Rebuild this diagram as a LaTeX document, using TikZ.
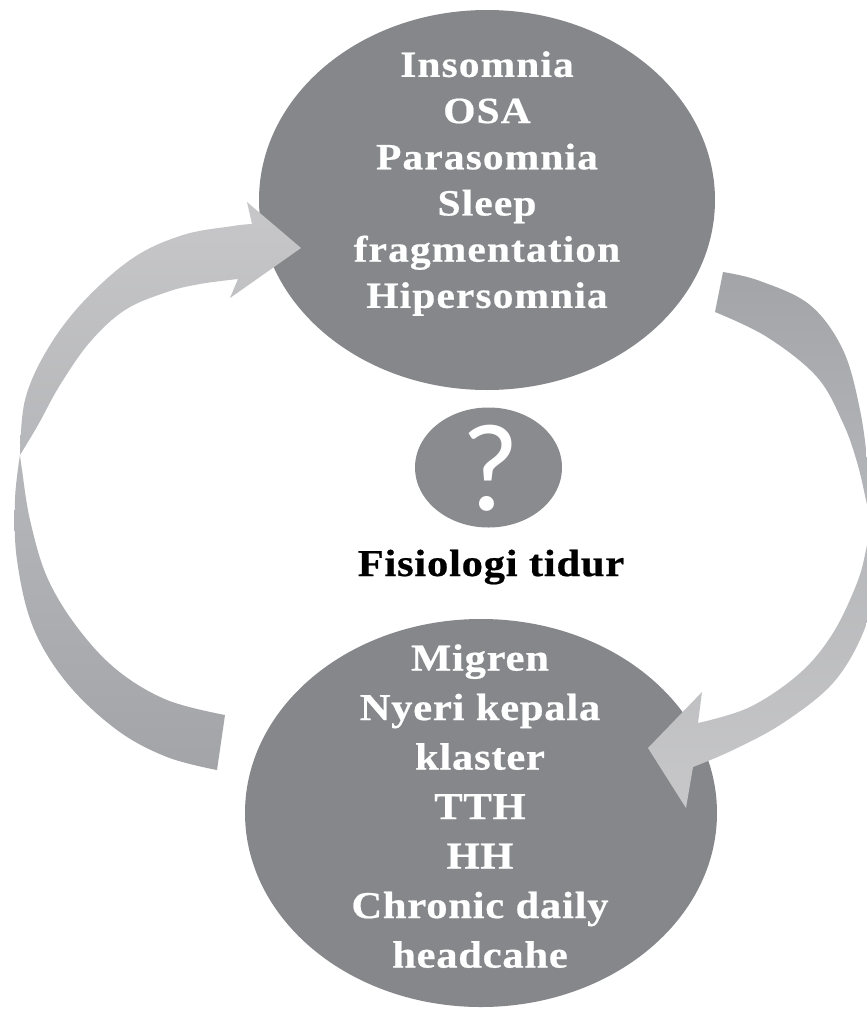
\documentclass[tikz,border=0pt]{standalone}
\usepackage{fontspec}
\setmainfont{Liberation Serif}
\newfontfamily\topfont[LetterSpace=3,FakeStretch=1.12,FakeBold=0.6]{Liberation Serif}
\newfontfamily\botfont[LetterSpace=2,FakeStretch=1.12,FakeBold=0.6]{Liberation Serif}
\newfontfamily\midfont[LetterSpace=2,FakeStretch=1.12,FakeBold=0.6]{Liberation Serif}
\newfontfamily\qfont{Carlito}
\usetikzlibrary{shapes.geometric}
\definecolor{blobgray}{HTML}{86878B}
\definecolor{qgray}{HTML}{8A8B8F}
\definecolor{arrlight}{HTML}{C7C7C9}
\definecolor{arrmid}{HTML}{B6B7BA}
\definecolor{arrdark}{HTML}{A3A4A8}
\begin{document}
\begin{tikzpicture}[x=1pt,y=-1pt,
  blob/.style={ellipse, fill=blobgray, inner sep=0pt, outer sep=0pt},
  intext/.style={text=white, align=center, inner sep=0pt},
  midtext/.style={text=black, inner sep=0pt}]
\useasboundingbox (0,0) rectangle (867,1010);
\fill[white] (0,0) rectangle (867,1010);

% main ellipses
\node[blob, minimum width=456pt, minimum height=380pt] (sleep) at (487,200) {};
\node[blob, minimum width=472pt, minimum height=388pt] (head) at (481,813) {};
\node[blob, fill=qgray, minimum width=147pt, minimum height=120pt] (q) at (488.5,467.5) {};

% texts
\node[intext, anchor=north, font={\topfont\bfseries\fontsize{37}{46.2}\selectfont}] (sleeptxt) at (487,51)
  {Insomnia\\OSA\\Parasomnia\\Sleep\\fragmentation\\Hipersomnia};
\node[intext, anchor=north, font={\botfont\bfseries\fontsize{38}{49.5}\selectfont}] (headtxt) at (480,644)
  {Migren\\Nyeri kepala\\klaster\\TTH\\HH\\Chronic daily\\headcahe};
\node[text=white, inner sep=0pt, anchor=base, font={\qfont\fontsize{125}{125}\selectfont}] (qmark) at (490,510) {?};
\node[midtext, anchor=base, font={\midfont\bfseries\fontsize{38}{40}\selectfont}] (fis) at (491,576) {Fisiologi tidur};

% left arrow: upper (light) part with head
\shade[top color=arrlight, bottom color=arrmid]
  (20,455) -- plot[smooth, tension=0.6] coordinates {(20,455) (25,400) (47,350) (83,302) (133,258) (183,235) (233,226) (252,224)}
  -- (247,202) -- (301,248) -- (230,298)
  -- plot[smooth, tension=0.6] coordinates {(238,279) (200,284) (167,292) (125,310) (90,342) (60,385) (38,425) (20,455)}
  -- cycle;
% left arrow: lower (dark) part with tail
\shade[top color=arrmid, bottom color=arrdark]
  (20,455) -- plot[smooth, tension=0.6] coordinates {(20,455) (15,500) (17,560) (33,627) (67,683) (117,730) (167,757) (217,770)}
  -- (225,715)
  -- plot[smooth, tension=0.6] coordinates {(225,715) (167,700) (117,670) (77,627) (47,577) (30,520) (22,470) (20,455)}
  -- cycle;

% right arrow: upper (dark) part with tail
\shade[top color=arrdark, bottom color=arrmid]
  (723,272) -- plot[smooth, tension=0.6] coordinates {(723,272) (760,281) (810,305) (843,350) (860,410) (868,470) (870,520)}
  -- plot[smooth, tension=0.6] coordinates {(870,520) (866,500) (857,462) (843,423) (817,377) (767,337) (715,312)}
  -- cycle;
% right arrow: lower (light) part with head
\shade[top color=arrmid, bottom color=arrlight]
  (870,525) -- plot[smooth, tension=0.6] coordinates {(870,525) (866,550) (857,583) (833,633) (800,673) (750,707) (698,723)}
  -- (702,692) -- (648,748) -- (686,808) -- (693,767)
  -- plot[smooth, tension=0.6] coordinates {(693,767) (733,750) (783,723) (833,683) (863,633) (872,590) (870,525)}
  -- cycle;
\end{tikzpicture}
\end{document}
